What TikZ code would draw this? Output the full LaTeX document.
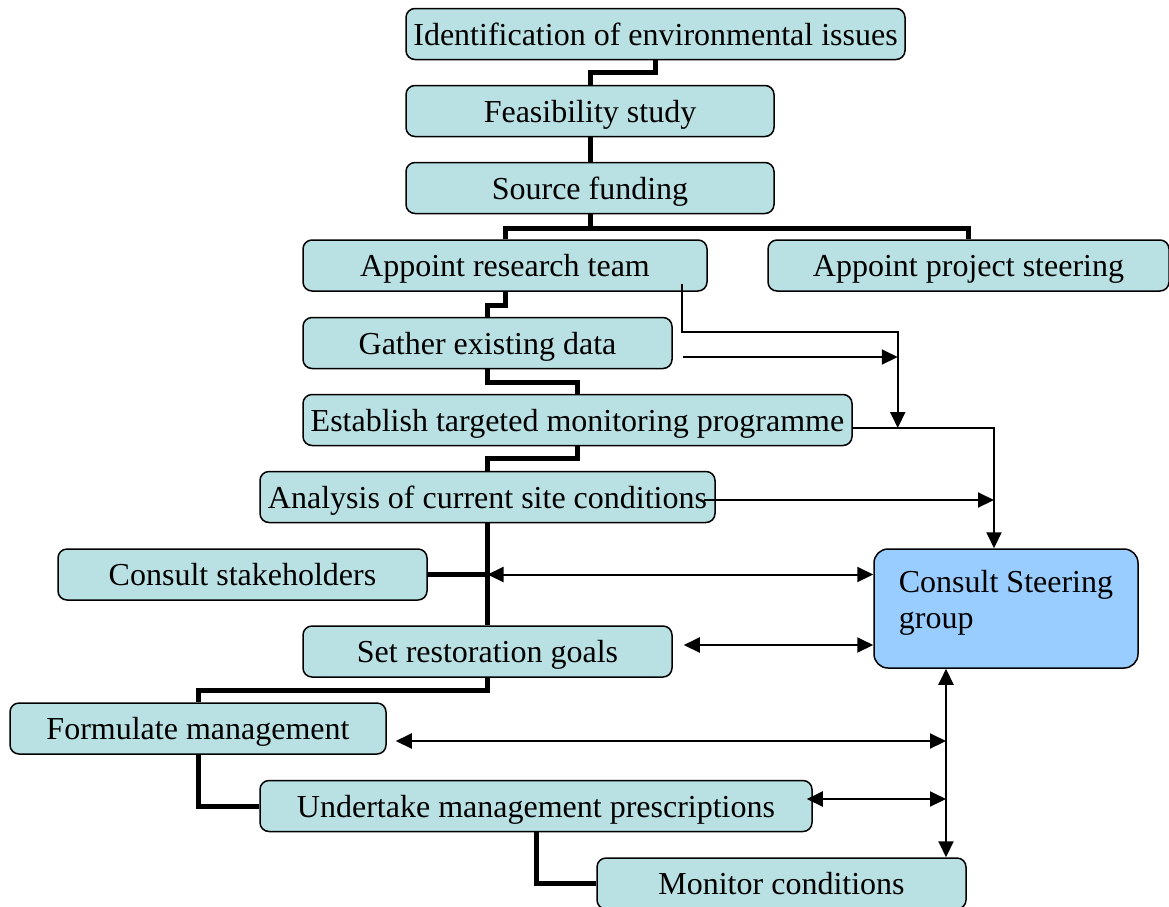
\documentclass[tikz,border=0pt]{standalone}
\usepackage{fontspec}
\setmainfont{Liberation Serif}
\usetikzlibrary{arrows.meta,calc}
\definecolor{boxfill}{RGB}{185,224,227}
\definecolor{steerfill}{RGB}{153,204,255}
\tikzset{
  stepbox/.style={draw=black, line width=1.5pt, fill=boxfill, rounded corners=9pt,
    inner sep=0pt, minimum height=51pt, text height=22pt, text depth=0pt,
    font=\fontsize{32}{36}\selectfont},
  steerbox/.style={draw=black, line width=1.5pt, fill=steerfill, rounded corners=14pt,
    minimum width=264pt, minimum height=119pt, align=left,
    inner sep=0pt, text height=58pt, text depth=19pt, font=\fontsize{32}{36}\selectfont},
  flow/.style={line width=5pt},
  tip/.tip={Triangle[length=16pt,width=15pt]},
  link/.style={line width=2pt, -tip},
  dlink/.style={line width=2pt, tip-tip},
}
\begin{document}
\begin{tikzpicture}[x=1pt,y=-1pt]
\useasboundingbox (0,0) rectangle (1169,906);
\clip (0,0) rectangle (1169,906);
% boxes
\node[stepbox, minimum width=499pt] (ident) at (655.5,34) {Identification of environmental issues};
\node[stepbox, minimum width=368pt] (feas) at (590,111) {Feasibility study};
\node[stepbox, minimum width=368pt] (src) at (590,188) {Source funding};
\node[stepbox, minimum width=404pt] (art) at (505,265.5) {Appoint research team};
\node[stepbox, minimum width=401pt] (aps) at (968.5,265.5) {Appoint project steering};
\node[stepbox, minimum width=369pt] (gat) at (487.5,343) {Gather existing data};
\node[stepbox, minimum width=549pt] (est) at (577.5,420) {Establish targeted monitoring programme};
\node[stepbox, minimum width=455pt] (ana) at (487.5,497) {Analysis of current site conditions};
\node[stepbox, minimum width=369pt] (cs) at (242.5,574.5) {Consult stakeholders};
\node[stepbox, minimum width=369pt] (set) at (487.5,651.5) {Set restoration goals};
\node[stepbox, minimum width=376pt] (form) at (198,728.5) {Formulate management};
\node[stepbox, minimum width=552pt] (und) at (536,806) {Undertake management prescriptions};
\node[stepbox, minimum width=369pt] (mon) at (781.5,883.5) {Monitor conditions};
\node[steerbox] (steer) at (1006,608.5) {Consult Steering\\group};
% main flow (thick)
\draw[flow] (ident.south) -- ++(0,12) -| (feas.north);
\draw[flow] (feas.south) -- (src.north);
\draw[flow] (src.south) -- ++(0,14.5) -| (art.north);
\draw[flow] ($(src.south)+(0,14.5)$) -| (aps.north);
\draw[flow] (art.south) -- ++(0,14) -| (gat.north);
\draw[flow] (gat.south) -- ++(0,13.5) -| (est.north);
\draw[flow] (est.south) -- ++(0,12.5) -| (ana.north);
\draw[flow] (ana.south) -- (set.north);
\draw[flow] (cs.east) -- (cs.east -| ana.south);
\draw[flow] (set.south) -- ++(0,13) -| (form.north);
\draw[flow] (form.south) |- (und.west);
\draw[flow] (und.south) |- (mon.west);
% reporting links (thin)
\coordinate (rt) at ($(art.south east)+(-26,-8)$);
\coordinate (j2) at ($(est.east)+(45,8)$);
\coordinate (j1) at (j2 |- 0,332);
\draw[link] (rt) |- (j1) -- (j2);
\coordinate (gs) at ($(gat.east)+(10,14)$);
\draw[link] (gs) -- (gs -| j2);
\coordinate (es) at ($(est.east)+(0,8)$);
\coordinate (vj) at ($(steer.north)+(-12,0)$);
\draw[link] (es) -| (vj);
\coordinate (as) at ($(ana.east)+(-12,3)$);
\draw[link] (as) -- (as -| vj);
\draw[dlink] (cs.east -| ana.south) -- (steer.west |- cs.east);
\coordinate (ss) at ($(set.east)+(11,-6.5)$);
\draw[dlink] (ss) -- (steer.west |- ss);
\coordinate (vt) at ($(steer.south)+(-60,0)$);
\coordinate (vb) at (vt |- mon.north);
\draw[dlink] (vt) -- (vb);
\coordinate (fs) at ($(form.east)+(9,12.5)$);
\draw[dlink] (fs) -- (fs -| vt);
\coordinate (us) at ($(und.east)+(-6,-7)$);
\draw[dlink] (us) -- (us -| vt);
\end{tikzpicture}
\end{document}
